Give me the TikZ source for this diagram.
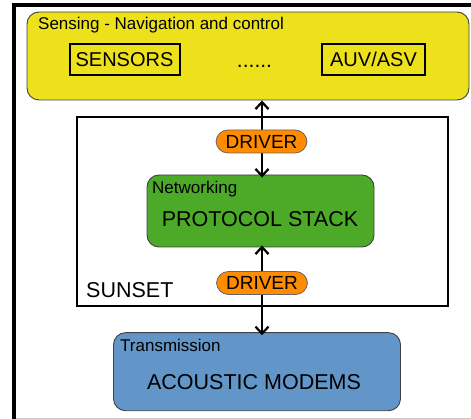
\documentclass[tikz,border=0pt]{standalone}
\usepackage{fontspec}
\setmainfont{Liberation Sans}
\usetikzlibrary{arrows.meta}
\definecolor{senseyellow}{RGB}{237,225,28}
\definecolor{stackgreen}{RGB}{76,170,40}
\definecolor{driverorange}{RGB}{255,140,0}
\definecolor{modemblue}{RGB}{98,150,200}
\begin{document}
\begin{tikzpicture}[x=1pt, y=-1pt,
	layer/.style={draw=black!75, line width=0.9pt, rounded corners=12pt, inner sep=0pt},
	unit/.style={draw=black, line width=2pt, inner sep=0pt, minimum height=31pt, font=\fontsize{20}{22}\selectfont},
	driver/.style={draw=black!60, fill=driverorange, line width=0.8pt, rounded corners=12pt, minimum width=91pt, minimum height=23pt, inner sep=0pt, font=\fontsize{19}{21}\selectfont},
	small/.style={font=\fontsize{17}{19}\selectfont, inner sep=0pt},
	big/.style={font=\fontsize{21.5}{24}\selectfont, inner sep=0pt},
	link/.style={line width=2.2pt, {Straight Barb[length=7pt,width=13pt]}-{Straight Barb[length=7pt,width=13pt]}}]
	\useasboundingbox (0,0) rectangle (471,419);
	% page frame
	\draw[line width=4pt] (14,419) -- (14,5.3) -- (471,5.3);
	\draw[black!20, line width=1pt] (16,418) -- (471,418);
	% sensing
	\node[layer, fill=senseyellow, minimum width=442pt, minimum height=88pt] (sensing) at (248,56) {};
	\node[small, anchor=base west] (sensingtxt) at (38,29.5) {Sensing - Navigation and control};
	\node[unit, minimum width=110pt] (sensors) at (124.5,59.5) {SENSORS};
	\node[unit, minimum width=103pt] (auv) at (373.5,59.5) {AUV/ASV};
	\node[font=\fontsize{21}{23}\selectfont, inner sep=0pt, anchor=base] (dots) at (254.5,68) {......};
	% sunset
	\node[draw, line width=2pt, minimum width=371pt, minimum height=189pt, inner sep=0pt] (sunset) at (262.5,211.5) {};
	\node[big, anchor=base west] (sunsettxt) at (86,298) {SUNSET};
	\node[layer, fill=stackgreen, minimum width=227pt, minimum height=72pt] (stack) at (260.5,211) {};
	\node[small, anchor=base west] (stacktxt) at (152,194) {Networking};
	\node[big, anchor=base] (stackname) at (260,227) {PROTOCOL STACK};
	% transmission
	\node[layer, fill=modemblue, minimum width=287pt, minimum height=78pt] (modems) at (257,371.7) {};
	\node[small, anchor=base west] (modemstxt) at (120,352) {Transmission};
	\node[big, anchor=base] (modemsname) at (254,389) {ACOUSTIC MODEMS};
	% links
	\coordinate (mid) at (262,0);
	\draw[link] (mid |- sensing.south) -- ([yshift=-3pt]mid |- stack.north);
	\draw[link] ([yshift=2pt]mid |- stack.south) -- ([yshift=-3pt]mid |- modems.north);
	\node[driver] (drvup) at (261.5,141.5) {DRIVER};
	\node[driver] (drvdown) at (262,283) {DRIVER};
\end{tikzpicture}
\end{document}
